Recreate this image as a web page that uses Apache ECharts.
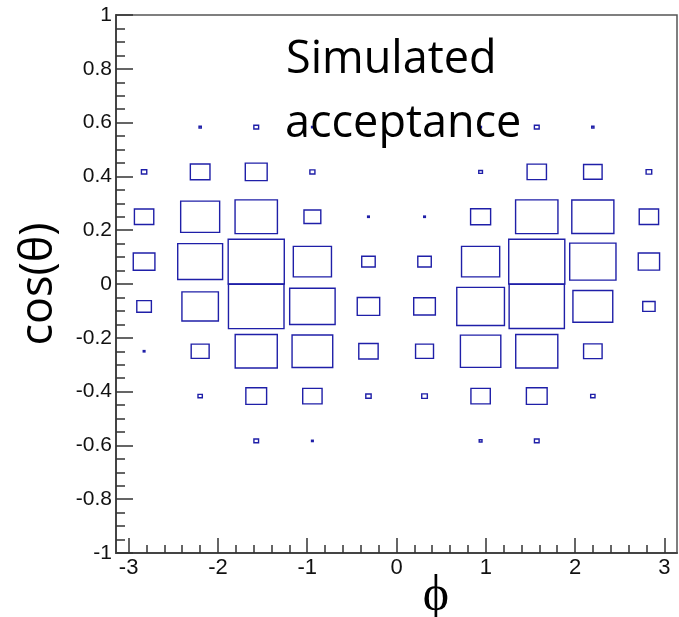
<!DOCTYPE html>
<html>
<head>
<meta charset="utf-8">
<script src="https://cdn.jsdelivr.net/npm/echarts@6/dist/echarts.min.js"></script>
<style>
html,body{margin:0;padding:0;background:#fff;}
#c{width:679px;height:617px;}
</style>
</head>
<body>
<div id="c"></div>
<script>
// phi bin centres (10 bins over [-pi, pi])
var phiCenters = [-2.827, -2.199, -1.571, -0.942, -0.314, 0.314, 0.942, 1.571, 2.199, 2.827];
// cos(theta) bin centres, top to bottom (12 bins over [-1, 1]; only occupied ones listed)
var cosCenters = [0.5833, 0.4167, 0.25, 0.0833, -0.0833, -0.25, -0.4167, -0.5833];
// relative acceptance per cell (row = cos bin, column = phi bin)
var acc_p0583 = [0, 0.04, 0.085, 0.03, 0, 0, 0.03, 0.085, 0.04, 0];
var acc_p0417 = [0.095, 0.35, 0.39, 0.09, 0, 0, 0.066, 0.345, 0.33, 0.10];
var acc_p0250 = [0.345, 0.695, 0.755, 0.30, 0.03, 0.03, 0.357, 0.755, 0.75, 0.345];
var acc_p0083 = [0.386, 0.80, 1.0, 0.68, 0.24, 0.24, 0.68, 1.0, 0.825, 0.38];
var acc_m0083 = [0.26, 0.65, 0.99, 0.81, 0.40, 0.386, 0.85, 0.985, 0.71, 0.22];
var acc_m0250 = [0.03, 0.32, 0.75, 0.725, 0.345, 0.32, 0.72, 0.75, 0.33, 0];
var acc_m0417 = [0, 0.077, 0.37, 0.345, 0.095, 0.10, 0.345, 0.37, 0.077, 0];
var acc_m0583 = [0, 0, 0.083, 0.03, 0, 0, 0.05, 0.083, 0, 0];
var accRows = [acc_p0583, acc_p0417, acc_p0250, acc_p0083, acc_m0083, acc_m0250, acc_m0417, acc_m0583];

var phiMajorTicks = [-3, -2, -1, 0, 1, 2, 3];
var phiMinorTicks = [-2.8, -2.6, -2.4, -2.2, -1.8, -1.6, -1.4, -1.2, -0.8, -0.6, -0.4, -0.2,
                     0.2, 0.4, 0.6, 0.8, 1.2, 1.4, 1.6, 1.8, 2.2, 2.4, 2.6, 2.8];

var binWidthPhi = 2 * Math.PI / 10;
var binWidthCos = 2 / 12;

var cells = [];
for (var r = 0; r < cosCenters.length; r++) {
  for (var c = 0; c < phiCenters.length; c++) {
    if (accRows[r][c] > 0) cells.push([phiCenters[c], cosCenters[r], accRows[r][c]]);
  }
}

var chart = echarts.init(document.getElementById('c'), null, {renderer: 'canvas'});
var axisColor = '#444';
chart.setOption({
  animation: false,
  backgroundColor: '#fff',
  grid: {left: 116, right: 2, top: 15, bottom: 64, show: true, borderColor: '#555', borderWidth: 1.5, backgroundColor: 'transparent'},
  xAxis: [{
    type: 'value', min: -Math.PI, max: Math.PI, position: 'bottom',
    axisLine: {show: true, onZero: false, lineStyle: {color: axisColor, width: 2}},
    axisTick: {show: true, inside: true, length: 15, customValues: phiMajorTicks, lineStyle: {color: '#333', width: 1.5}},
    axisLabel: {show: true, customValues: phiMajorTicks, color: '#111', fontFamily: 'Liberation Sans, Arial, sans-serif', fontSize: 22, margin: 4,
      showMinLabel: true, showMaxLabel: true},
    splitLine: {show: false}
  }, {
    type: 'value', min: -Math.PI, max: Math.PI, position: 'bottom',
    axisLine: {show: false, onZero: false},
    axisTick: {show: true, inside: true, length: 8, customValues: phiMinorTicks, lineStyle: {color: '#333', width: 1.5}},
    axisLabel: {show: false},
    splitLine: {show: false}
  }],
  yAxis: {
    type: 'value', min: -1, max: 1, interval: 0.2,
    axisLine: {show: true, onZero: false, lineStyle: {color: axisColor, width: 2}},
    axisTick: {show: true, inside: true, length: 17, lineStyle: {color: '#333', width: 1.5}},
    minorTick: {show: true, splitNumber: 4, length: 9, lineStyle: {color: '#333', width: 1.5}},
    axisLabel: {color: '#111', fontFamily: 'Liberation Sans, Arial, sans-serif', fontSize: 21, margin: 4,
      formatter: function (v) { return String(Math.round(v * 10) / 10); }},
    splitLine: {show: false}
  },
  series: [{
    type: 'custom',
    xAxisIndex: 0, yAxisIndex: 0,
    data: cells,
    renderItem: function (params, api) {
      var center = api.coord([api.value(0), api.value(1)]);
      var size = api.size([binWidthPhi, binWidthCos]);
      var f = api.value(2);
      var w = size[0] * f, h = size[1] * f;
      return {
        type: 'rect',
        shape: {x: center[0] - w / 2, y: center[1] - h / 2, width: w, height: h},
        style: {fill: 'none', stroke: '#1f1fa8', lineWidth: 1.4}
      };
    }
  }],
  graphic: [
    {type: 'text', left: 286, top: 38, z: 100,
      style: {text: 'Simulated', font: '45px "Open Sans", "Noto Sans", sans-serif', fill: '#000'}},
    {type: 'text', left: 285, top: 102, z: 100,
      style: {text: 'acceptance', font: '45px "Open Sans", "Noto Sans", sans-serif', fill: '#000'}},
    {type: 'text', x: 39, y: 284, rotation: Math.PI / 2, z: 100,
      style: {text: 'cos(θ)', font: '45px "Open Sans", "Noto Sans", sans-serif', fill: '#000', align: 'center', verticalAlign: 'middle'}},
    {type: 'text', x: 436, y: 597, z: 100,
      style: {text: 'ϕ', font: '50px "Liberation Serif", "DejaVu Serif", serif', fill: '#000', align: 'center', verticalAlign: 'middle'}}
  ]
});
</script>
</body>
</html>
